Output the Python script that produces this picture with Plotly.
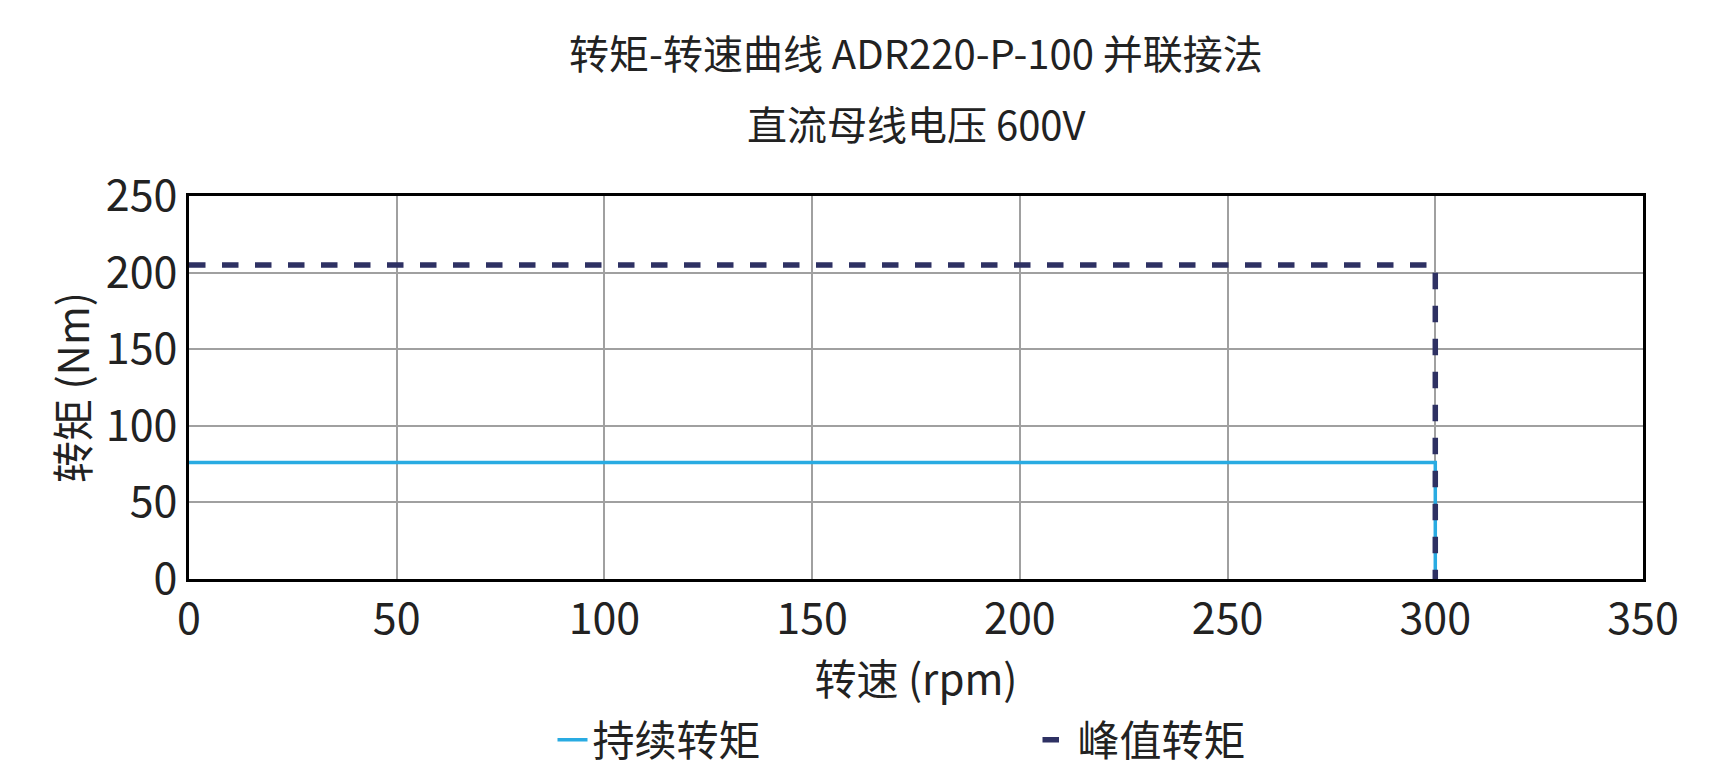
import plotly.graph_objects as go

speed = [0, 300, 300]
cont_torque = [76, 76, 0]
peak_torque = [205, 205, 0]

F = "Noto Sans CJK SC"
fig = go.Figure()
fig.add_trace(go.Scatter(x=speed, y=cont_torque, mode="lines", name="持续转矩",
                         line=dict(color="#29abe2", width=3.5)))
fig.add_trace(go.Scatter(x=speed, y=peak_torque, mode="lines", name="峰值转矩",
                         line=dict(color="#2e3163", width=5.5, dash="dash")))
ax = dict(showline=True, linecolor="black", linewidth=3, mirror=True,
          gridcolor="#a0a0a0", gridwidth=1.5, zeroline=False, ticks="",
          tickfont=dict(size=43, color="#222"))
fig.update_layout(
    width=1718, height=782, plot_bgcolor="white", paper_bgcolor="white",
    margin=dict(l=181, r=83, t=188, b=211),
    font=dict(family=F, color="#222"),
    xaxis=dict(range=[0, 350], dtick=50, title=dict(text="转速 (rpm)", font=dict(size=42), standoff=0), **ax),
    yaxis=dict(range=[0, 250], dtick=50, title=dict(text="转矩 (Nm)", font=dict(size=42), standoff=4), **ax),
    legend=dict(orientation="h", x=0.25, xanchor="left", y=-0.42, yanchor="middle",
                font=dict(size=42), entrywidthmode="pixels", entrywidth=440),
    annotations=[
        dict(text="转矩-转速曲线 ADR220-P-100 并联接法", xref="paper", yref="paper", x=0.5, y=1.376,
             showarrow=False, font=dict(size=40), yanchor="middle"),
        dict(text="直流母线电压 600V", xref="paper", yref="paper", x=0.5, y=1.191,
             showarrow=False, font=dict(size=40), yanchor="middle"),
    ],
)
fig.write_html("out.html")
